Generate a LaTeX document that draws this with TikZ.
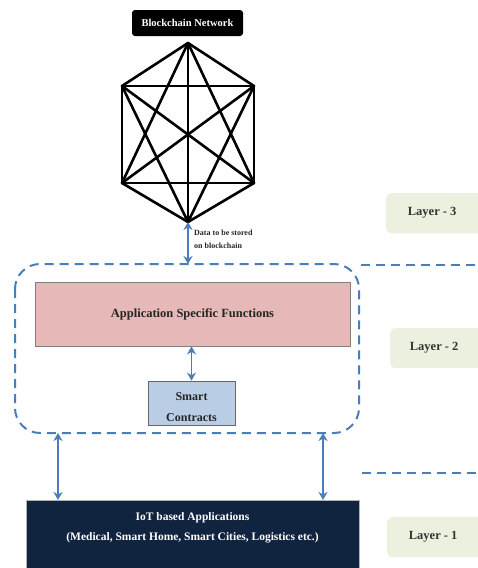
\documentclass[tikz,border=0pt]{standalone}
\usepackage{fontspec}
\setmainfont{Liberation Serif}
\usetikzlibrary{arrows.meta}
\definecolor{navy}{HTML}{10233F}
\definecolor{dblue}{HTML}{4A7EBB}
\definecolor{pinkf}{HTML}{E6B8B7}
\definecolor{bluef}{HTML}{B9CDE5}
\definecolor{layerf}{HTML}{EBF1DE}
\tikzset{
  edge/.style={line width=2.6pt, black},
  dasharrow/.style={line width=1.5pt, dblue, {Stealth[length=8pt,width=9pt,inset=2.5pt]}-{Stealth[length=8pt,width=9pt,inset=2.5pt]}},
  bdash/.style={line width=2pt, dblue, dash pattern=on 9pt off 6pt},
  layerbox/.style={fill=layerf, rounded corners=5pt, font=\bfseries\fontsize{12.5}{14}\selectfont, text=black!80},
}
\begin{document}
\begin{tikzpicture}[x=1pt,y=-1pt]
\useasboundingbox (0,0) rectangle (477,568);
% blockchain label
\node[fill=black, rounded corners=3pt, text=white, font=\bfseries\fontsize{10.5}{12}\selectfont, minimum width=111pt, minimum height=26pt] (bn) at (187.5,23) {Blockchain Network};
% hexagon vertices
\coordinate (t) at (188,43);
\coordinate (ul) at (122,86);
\coordinate (ur) at (254,86);
\coordinate (ll) at (122,183);
\coordinate (lr) at (254,183);
\coordinate (b) at (188,222);
\foreach \a/\c in {t/ul,t/ur,t/ll,t/lr,t/b,ul/ur,ul/ll,ul/lr,ul/b,ur/ll,ur/lr,ur/b,ll/lr,ll/b,lr/b}
  \draw[edge, line join=round, line cap=round] (\a) -- (\c);
% dashed layer-2 container
\draw[bdash, rounded corners=25pt] (15,264) rectangle (359,433);
\coordinate (ctop) at (188,264);
\draw[dasharrow] (b) -- (ctop);
\node[anchor=west, align=left, font=\bfseries\fontsize{8}{13}\selectfont, text=black!85, inner sep=0pt] (dlab) at (194,239) {Data to be stored\\on blockchain};
% separators
\coordinate (s3a) at (361,265);
\coordinate (s3b) at (477,265);
\draw[bdash] (s3a) -- (s3b);
\coordinate (s1a) at (362,473);
\coordinate (s1b) at (477,473);
\draw[bdash] (s1a) -- (s1b);
% pink box
\node[draw=gray, line width=0.8pt, fill=pinkf, minimum width=315pt, minimum height=64pt, font=\bfseries\fontsize{12.5}{14}\selectfont, text=black!85] (asf) at (192.5,314) {Application Specific Functions};
% smart contracts
\node[draw=gray!80!black, line width=0.8pt, fill=bluef, minimum width=87pt, minimum height=44pt] (sc) at (191.5,403) {};
\node[align=center, font=\bfseries\fontsize{12}{21}\selectfont, text=black!85] (sct) at (191.5,407) {Smart\\Contracts};
\draw[dasharrow] (asf.south -| sc.north) -- (sc.north);
% IoT box
\node[fill=navy, draw=gray!60, line width=0.5pt, minimum width=333pt, minimum height=70pt, anchor=north west] (iot) at (26,500) {};
\node[text=white, align=center, font=\bfseries\fontsize{11.5}{20}\selectfont, anchor=north] (iott) at (192.5,509) {IoT based Applications\\(Medical, Smart Home, Smart Cities, Logistics etc.)};
\coordinate (c1) at (58,433);
\coordinate (c2) at (323,433);
\draw[dasharrow] (c1) -- (c1 |- iot.north);
\draw[dasharrow] (c2) -- (c2 |- iot.north);
% layer boxes
\node[layerbox, minimum width=100pt, minimum height=40pt, anchor=north west] (l3) at (386,193) {\hspace*{-8pt}Layer - 3};
\node[layerbox, minimum width=96pt, minimum height=40pt, anchor=north west] (l2) at (390,328) {\hspace*{-8pt}Layer - 2};
\node[layerbox, minimum width=100pt, minimum height=40pt, anchor=north west] (l1) at (387,517) {\hspace*{-8pt}Layer - 1};
\end{tikzpicture}
\end{document}
